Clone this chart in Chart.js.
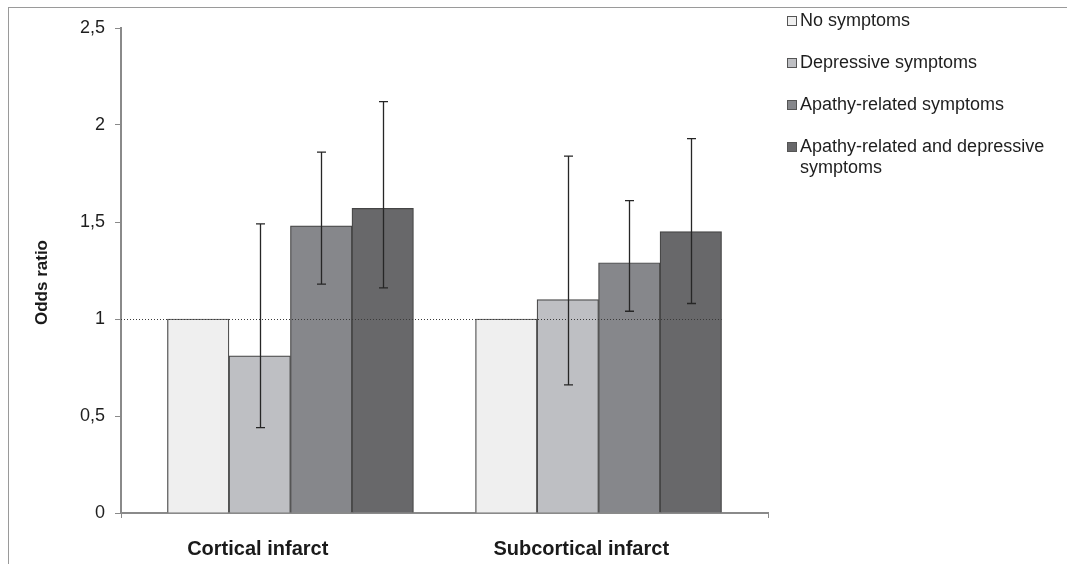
<!DOCTYPE html>
<html>
<head>
<meta charset="utf-8">
<script src="https://cdn.jsdelivr.net/npm/chart.js@4/dist/chart.umd.min.js"></script>
<style>
  html, body { margin: 0; padding: 0; background: #fff; }
  #wrap { position: relative; width: 1067px; height: 564px; overflow: hidden; font-family: "Liberation Sans", Arial, sans-serif; }
  #frame { position: absolute; left: 8px; top: 7px; width: 1200px; height: 700px; border-left: 1px solid #9a9a9a; border-top: 1px solid #9a9a9a; }
  #chart { position: absolute; left: 0; top: 0; }
  .leg { position: absolute; left: 787px; font-size: 18px; line-height: 21px; color: #1e1e1e; white-space: nowrap; }
  .leg .sw { position: absolute; left: 0; top: 6px; width: 8px; height: 8px; border: 1px solid #555; }
  .leg .tx { position: absolute; left: 13px; top: 0; }
</style>
</head>
<body>
<div id="wrap">
  <div id="frame"></div>
  <canvas id="chart" width="1067" height="564"></canvas>
  <div id="legend"></div>
</div>
<script>
// Infarct type categories and symptom groups
const categories = ['Cortical infarct', 'Subcortical infarct'];
const groups = ['No symptoms', 'Depressive symptoms', 'Apathy-related symptoms', 'Apathy-related and depressive symptoms'];

// Odds ratios per group (cortical, subcortical)
const noSymptoms = [1.00, 1.00];
const depressive = [0.81, 1.10];
const apathy = [1.48, 1.29];
const apathyDepressive = [1.57, 1.45];

// 95% confidence intervals
const depressiveLow = [0.44, 0.66];
const depressiveHigh = [1.49, 1.84];
const apathyLow = [1.18, 1.04];
const apathyHigh = [1.86, 1.61];
const apathyDepressiveLow = [1.16, 1.08];
const apathyDepressiveHigh = [2.12, 1.93];

// Value axis ticks
const yTicks = [0, 0.5, 1, 1.5, 2, 2.5];
const referenceOR = 1;
const yTitle = 'Odds ratio';

const fills = ['#efefef', '#bebfc3', '#86878b', '#68686a'];

function points(values) {
  return values.map((v, i) => ({ x: i, y: v }));
}

const datasets = [
  { label: groups[0], data: points(noSymptoms), backgroundColor: fills[0] },
  { label: groups[1], data: points(depressive), backgroundColor: fills[1], errLow: depressiveLow, errHigh: depressiveHigh },
  { label: groups[2], data: points(apathy), backgroundColor: fills[2], errLow: apathyLow, errHigh: apathyHigh },
  { label: groups[3], data: points(apathyDepressive), backgroundColor: fills[3], errLow: apathyDepressiveLow, errHigh: apathyDepressiveHigh }
].map(d => Object.assign(d, {
  borderColor: '#454545',
  borderWidth: 1.2,
  barThickness: 61.5
}));

// Reference line at OR = 1, confidence interval whiskers and the value axis title
const overlay = {
  id: 'overlay',
  afterDatasetsDraw(chart) {
    const ctx = chart.ctx;
    const y = chart.scales.y;
    const area = chart.chartArea;

    const last = chart.getDatasetMeta(datasets.length - 1).data[categories.length - 1];
    const yRef = Math.round(y.getPixelForValue(referenceOR)) + 0.5;
    ctx.save();
    ctx.strokeStyle = '#3a3a3a';
    ctx.lineWidth = 1;
    ctx.setLineDash([1, 2]);
    ctx.beginPath();
    ctx.moveTo(area.left, yRef);
    ctx.lineTo(last.x + last.width / 2, yRef);
    ctx.stroke();
    ctx.setLineDash([]);

    ctx.strokeStyle = '#262626';
    ctx.lineWidth = 1.3;
    datasets.forEach((ds, di) => {
      if (!ds.errLow) return;
      const meta = chart.getDatasetMeta(di);
      meta.data.forEach((bar, j) => {
        const x = Math.round(bar.x) + 0.5;
        const yl = y.getPixelForValue(ds.errLow[j]);
        const yh = y.getPixelForValue(ds.errHigh[j]);
        ctx.beginPath();
        ctx.moveTo(x, yl); ctx.lineTo(x, yh);
        ctx.moveTo(x - 4.5, yl); ctx.lineTo(x + 4.5, yl);
        ctx.moveTo(x - 4.5, yh); ctx.lineTo(x + 4.5, yh);
        ctx.stroke();
      });
    });

    // rotated axis title, centred a little below the middle of the plot
    ctx.translate(42, (area.top + area.bottom) / 2 + 12);
    ctx.rotate(-Math.PI / 2);
    ctx.fillStyle = '#1a1a1a';
    ctx.font = 'bold 17px "Liberation Sans", Arial, sans-serif';
    ctx.textAlign = 'center';
    ctx.textBaseline = 'middle';
    ctx.fillText(yTitle, 0, 0);
    ctx.restore();
  }
};

new Chart(document.getElementById('chart'), {
  type: 'bar',
  data: { datasets },
  plugins: [overlay],
  options: {
    responsive: false,
    animation: false,
    layout: { padding: { left: 0, right: 299, top: 28, bottom: 0 } },
    plugins: { legend: { display: false }, tooltip: { enabled: false } },
    scales: {
      x: {
        type: 'linear',
        display: false,
        offset: false,
        min: -0.55,
        max: 1.55
      },
      x2: {
        type: 'category',
        position: 'bottom',
        labels: categories,
        offset: true,
        afterFit(s) { s.height = 51; },
        border: { display: true, color: '#8a8a8a', width: 2 },
        grid: {
          display: true,
          offset: true,
          drawOnChartArea: false,
          drawTicks: true,
          tickLength: 5,
          color: c => (c.index === 1 ? 'rgba(0,0,0,0)' : '#8a8a8a')
        },
        ticks: {
          color: '#1a1a1a',
          padding: 19,
          labelOffset: -25,
          maxRotation: 0,
          font: { family: '"Liberation Sans", Arial, sans-serif', size: 20, weight: 'bold' }
        }
      },
      y: {
        min: yTicks[0],
        max: yTicks[yTicks.length - 1],
        afterFit(s) { s.width = 121; },
        afterBuildTicks(s) { s.ticks = yTicks.map(v => ({ value: v })); },
        border: { display: true, color: '#8a8a8a', width: 2 },
        grid: { drawOnChartArea: false, drawTicks: true, tickLength: 6, color: '#8a8a8a' },
        ticks: {
          color: '#1e1e1e',
          padding: 10,
          font: { family: '"Liberation Sans", Arial, sans-serif', size: 18 },
          callback: v => String(v).replace('.', ',')
        }
      }
    }
  }
});

// Legend to the right of the plot
const legendCenters = [20, 62, 104, 146];
const legend = document.getElementById('legend');
groups.forEach((g, i) => {
  const item = document.createElement('div');
  item.className = 'leg';
  item.style.top = (legendCenters[i] - 10.5) + 'px';
  const sw = document.createElement('span');
  sw.className = 'sw';
  sw.style.background = fills[i];
  const tx = document.createElement('span');
  tx.className = 'tx';
  if (i === 3) {
    tx.innerHTML = 'Apathy-related and depressive<br>symptoms';
  } else {
    tx.textContent = g;
  }
  item.appendChild(sw);
  item.appendChild(tx);
  legend.appendChild(item);
});
</script>
</body>
</html>
